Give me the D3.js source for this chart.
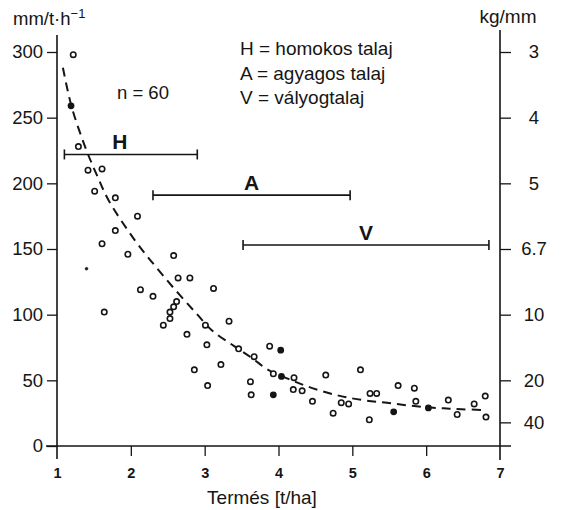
<!DOCTYPE html>
<html>
<head>
<meta charset="utf-8">
<script src="https://cdn.jsdelivr.net/npm/d3@7"></script>
<style>
  html, body { margin: 0; padding: 0; background: #fff; }
  svg { display: block; font-family: "Liberation Sans", Arial, Helvetica, sans-serif; }
</style>
</head>
<body>
<svg id="chart" width="563" height="510"></svg>
<script>
// ---- Data ----
const xTicks = [1, 2, 3, 4, 5, 6, 7];
const yTicks = [0, 50, 100, 150, 200, 250, 300];
const rightTickLabels = ["3", "4", "5", "6.7", "10", "20", "40"];
const rightTickPos = [300, 250, 200, 150, 100, 50, 18];   // positions on the left (mm/t·h⁻¹) scale

// measured points: yield (t/ha), value (mm/t·h⁻¹), marker type (0 open, 1 filled, 2 small dot)
const ptX = [1.22, 1.19, 1.29, 1.42, 1.61, 1.51, 1.79, 2.09, 1.79,
             1.61, 1.96, 1.40, 2.58, 2.64, 2.80, 3.12, 2.13, 2.30, 1.64, 2.62, 2.58, 2.53, 2.53, 2.44, 2.76, 3.01, 3.03, 2.86, 3.04,
             3.33, 3.22, 3.46, 3.67, 3.88, 4.03, 3.93, 3.62, 3.63, 3.93, 4.04, 4.21, 4.20, 4.32, 4.64, 4.46, 4.74, 4.85, 4.95, 5.11, 5.24, 5.23,
             5.33, 5.56, 5.62, 5.84, 5.86, 6.03, 6.30, 6.42, 6.65, 6.80, 6.81];
const ptY = [298, 259, 228, 210, 211, 194, 189, 175, 164,
             154, 146, 135, 145, 128, 128, 120, 119, 114, 102, 110, 106, 102, 97, 92, 85, 92, 77, 58, 46,
             95, 62, 74, 68, 76, 73, 55, 49, 39, 39, 53, 52, 43, 42, 54, 34, 25, 33, 32, 58, 40, 20,
             40, 26, 46, 44, 34, 29, 35, 24, 32, 38, 22];
const ptType = [0, 1, 0, 0, 0, 0, 0, 0, 0,
                0, 0, 2, 0, 0, 0, 0, 0, 0, 0, 0, 0, 0, 0, 0, 0, 0, 0, 0, 0,
                0, 0, 0, 0, 0, 1, 0, 0, 0, 1, 1, 0, 0, 0, 0, 0, 0, 0, 0, 0, 0, 0,
                0, 1, 0, 0, 0, 1, 0, 0, 0, 0, 0];

// fitted (dashed) curve
const curveX = [1.08, 1.2, 1.4, 1.55, 1.7, 2.05, 2.33, 2.6, 2.87, 3.1, 3.4, 3.64, 3.86, 4.18, 4.41, 4.7, 4.93, 5.2, 5.47, 5.74, 6.0, 6.24, 6.48, 6.8];
const curveY = [288, 258, 225, 205, 187, 157, 137, 119, 102, 88, 76, 67, 58, 50, 45, 40, 37, 34.5, 33, 31, 29.5, 28.7, 28, 27.4];

// soil type yield ranges
const rangeNames = ["H", "A", "V"];
const rangeStart = [1.1, 2.3, 3.52];
const rangeEnd = [2.9, 4.97, 6.85];
const rangeLevel = [222, 191, 153];

const legendLines = ["H = homokos talaj", "A = agyagos talaj", "V = vályogtalaj"];

// ---- Drawing ----
const svg = d3.select("#chart");
const ink = "#151515";
const FF = "Liberation Sans, Arial, sans-serif";
const x = d3.scaleLinear().domain([1, 7]).range([57, 500]);
const y = d3.scaleLinear().domain([0, 300]).range([446, 52]);

// left axis
const gl = svg.append("g").attr("transform", `translate(${x(1)},0)`);
gl.call(d3.axisLeft(y).tickValues(yTicks).tickSize(10).tickPadding(4).tickFormat(d3.format("d")));
gl.select(".domain").remove();
gl.selectAll(".tick line").attr("stroke", ink).attr("stroke-width", 1.3);
gl.selectAll(".tick text").attr("fill", ink).attr("font-size", 18.5).attr("font-family", FF);
svg.append("line").attr("x1", x(1)).attr("x2", x(1)).attr("y1", 35).attr("y2", 459)
  .attr("stroke", ink).attr("stroke-width", 1.6);

// right axis
const gr = svg.append("g").attr("transform", `translate(${x(7)},0)`);
gr.call(d3.axisRight(y).tickValues(rightTickPos).tickSize(11).tickPadding(0)
  .tickFormat((d, i) => rightTickLabels[i]));
gr.select(".domain").remove();
gr.selectAll(".tick line").attr("stroke", ink).attr("stroke-width", 1.3);
gr.selectAll(".tick text").attr("fill", ink).attr("font-size", 18.5).attr("x", 34)
  .attr("text-anchor", "middle").attr("font-family", FF);
svg.append("line").attr("x1", x(7)).attr("x2", x(7)).attr("y1", 30).attr("y2", 460)
  .attr("stroke", ink).attr("stroke-width", 1.6);

// bottom axis
const gb = svg.append("g").attr("transform", `translate(0,${y(0)})`);
gb.call(d3.axisBottom(x).tickValues(xTicks).tickSize(10).tickPadding(12).tickFormat(d3.format("d")));
gb.select(".domain").remove();
gb.selectAll(".tick line").attr("stroke", ink).attr("stroke-width", 1.3)
  .filter(d => d === 1 || d === 7).remove();
gb.selectAll(".tick text").attr("fill", ink).attr("font-size", 14.5).attr("font-weight", "bold")
  .attr("font-family", FF);
svg.append("line").attr("x1", 46).attr("x2", 511).attr("y1", y(0)).attr("y2", y(0))
  .attr("stroke", ink).attr("stroke-width", 1.6);

// axis titles
const lt = svg.append("text").attr("x", 13).attr("y", 25).attr("font-size", 18.5).attr("fill", ink);
lt.append("tspan").text("mm/t\u00B7h");
lt.append("tspan").attr("dy", -7).attr("font-size", 13).text("\u22121");
svg.append("text").attr("x", 508).attr("y", 23).attr("text-anchor", "middle")
  .attr("font-size", 19).attr("fill", ink).text("kg/mm");
svg.append("text").attr("x", 262).attr("y", 504).attr("text-anchor", "middle")
  .attr("font-size", 19).attr("fill", ink).text("Termés [t/ha]");

// legend & n
svg.selectAll("text.legend").data(legendLines).join("text").attr("class", "legend")
  .attr("x", 240).attr("y", (d, i) => 55 + i * 24.5)
  .attr("font-size", 19).attr("fill", ink).text(d => d);
svg.append("text").attr("x", 117).attr("y", 99).attr("font-size", 18.5).attr("fill", ink).text("n = 60");

// ranges
const ranges = rangeNames.map((n, i) => ({ n, s: rangeStart[i], e: rangeEnd[i], v: rangeLevel[i] }));
const rg = svg.append("g");
ranges.forEach(r => {
  rg.append("line").attr("x1", x(r.s)).attr("x2", x(r.e)).attr("y1", y(r.v)).attr("y2", y(r.v))
    .attr("stroke", ink).attr("stroke-width", 1.6);
  [r.s, r.e].forEach(v => rg.append("line").attr("x1", x(v)).attr("x2", x(v))
    .attr("y1", y(r.v) - 5).attr("y2", y(r.v) + 5).attr("stroke", ink).attr("stroke-width", 1.6));
  rg.append("text").attr("x", x((r.s + r.e) / 2) - (r.n === "H" ? 11 : 0))
    .attr("y", y(r.v) - 5).attr("text-anchor", "middle")
    .attr("font-size", 21).attr("font-weight", "bold").attr("fill", ink).text(r.n);
});

// dashed fit curve
const curveData = curveX.map((v, i) => [v, curveY[i]]);
svg.append("path").datum(curveData)
  .attr("d", d3.line().x(d => x(d[0])).y(d => y(d[1])).curve(d3.curveCatmullRom))
  .attr("fill", "none").attr("stroke", ink).attr("stroke-width", 2)
  .attr("stroke-dasharray", "9,6");

// points
const pts = ptX.map((v, i) => ({ x: v, y: ptY[i], t: ptType[i] }));
svg.append("g").selectAll("circle").data(pts).join("circle")
  .attr("cx", d => x(d.x)).attr("cy", d => y(d.y))
  .attr("r", d => d.t === 2 ? 1.3 : (d.t === 1 ? 2.6 : 2.7))
  .attr("fill", d => d.t ? ink : "#fff")
  .attr("stroke", ink).attr("stroke-width", d => d.t === 2 ? 0.8 : 1.6);
</script>
</body>
</html>
